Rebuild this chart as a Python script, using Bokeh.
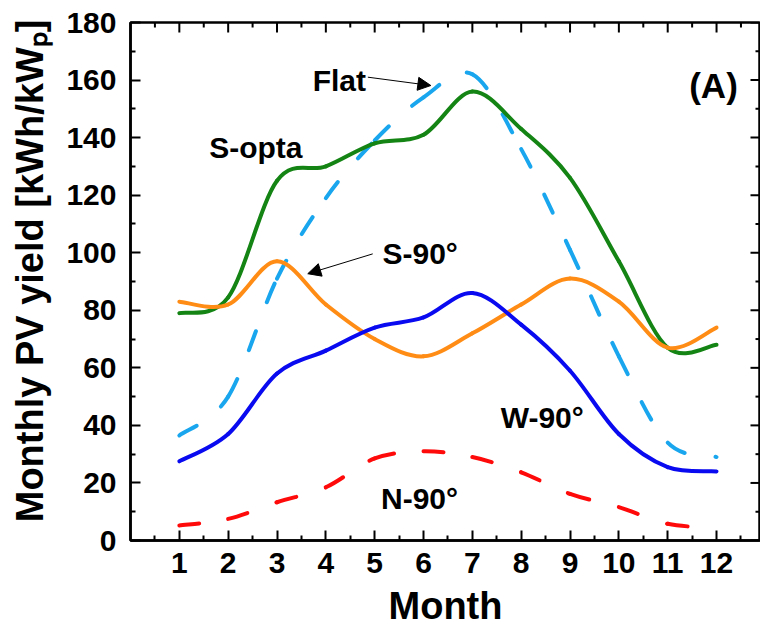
import numpy as np
from bokeh.plotting import figure
from bokeh.models import FixedTicker, Label, Arrow, NormalHead, Range1d
from bokeh.embed import file_html
from bokeh.resources import INLINE

# ---------------- data ----------------
months = [1, 2, 3, 4, 5, 6, 7, 8, 9, 10, 11, 12]
flat = [36.5, 50, 91, 119, 139, 154, 162, 136, 101, 64, 34, 29]
s_opta = [79, 84.5, 125, 130, 138, 141, 156, 143, 126, 97, 67, 68]
s_90 = [83, 82, 97, 82, 70, 64, 72, 82, 91, 83, 67, 74]
w_90 = [27.5, 37, 58, 66, 74, 77.5, 86, 75, 59, 37, 25.5, 24]
n_90 = [5.2, 7.5, 13.3, 18.5, 28.5, 31, 29, 23.7, 16.2, 11.6, 5.8, 4.4]

x_ticks = [1, 2, 3, 4, 5, 6, 7, 8, 9, 10, 11, 12]
x_minor_ticks = [0.5, 1.5, 2.5, 3.5, 4.5, 5.5, 6.5, 7.5, 8.5, 9.5, 10.5, 11.5, 12.5]
y_ticks = [0, 20, 40, 60, 80, 100, 120, 140, 160, 180]
y_minor_ticks = [10, 30, 50, 70, 90, 110, 130, 150, 170]

X_START, X_END = 0, 12.9
Y_START, Y_END = 0, 180

FONT = "Liberation Sans"


def bezier_parts(xs, ys):
    """Catmull-Rom control points for a smooth curve through the data points."""
    x = np.asarray(xs, float)
    y = np.asarray(ys, float)
    n = len(x)
    xp = np.concatenate([[x[0]], x, [x[-1]]])
    yp = np.concatenate([[y[0]], y, [y[-1]]])
    cx0 = x[:-1] + (xp[2:n + 1] - xp[0:n - 1]) / 6.0
    cy0 = y[:-1] + (yp[2:n + 1] - yp[0:n - 1]) / 6.0
    cx1 = x[1:] - (xp[3:n + 2] - xp[1:n]) / 6.0
    cy1 = y[1:] - (yp[3:n + 2] - yp[1:n]) / 6.0
    return dict(x0=x[:-1], y0=y[:-1], x1=x[1:], y1=y[1:],
                cx0=cx0, cy0=cy0, cx1=cx1, cy1=cy1)


p = figure(width=760, height=629,
           x_range=Range1d(X_START, X_END), y_range=Range1d(Y_START, Y_END),
           output_backend="svg", toolbar_location=None,
           min_border_left=130, min_border_right=0,
           min_border_top=22, min_border_bottom=89)
p.xgrid.visible = False
p.ygrid.visible = False
p.outline_line_color = "black"
p.outline_line_width = 2.5
p.background_fill_color = "white"
p.border_fill_color = "white"


def style_axis(ax):
    ax.axis_line_width = 2.5
    ax.axis_line_color = "black"
    ax.major_tick_in = 10
    ax.major_tick_out = 0
    ax.minor_tick_in = 5
    ax.minor_tick_out = 0
    ax.major_tick_line_width = 2
    ax.minor_tick_line_width = 2
    ax.major_tick_line_color = "black"
    ax.minor_tick_line_color = "black"
    ax.major_label_text_font = FONT
    ax.major_label_text_font_style = "bold"
    ax.major_label_text_font_size = "30px"
    ax.major_label_text_color = "black"
    ax.axis_label_text_font = FONT
    ax.axis_label_text_font_style = "bold"
    ax.axis_label_text_color = "black"


p.xaxis[0].ticker = FixedTicker(ticks=x_ticks, minor_ticks=x_minor_ticks)
p.yaxis[0].ticker = FixedTicker(ticks=y_ticks, minor_ticks=y_minor_ticks)
style_axis(p.xaxis[0])
style_axis(p.yaxis[0])
p.xaxis[0].axis_label = "Month"
p.xaxis[0].axis_label_text_font_size = "38px"
p.xaxis[0].major_label_standoff = 12
p.xaxis[0].axis_label_standoff = 9
p.yaxis[0].axis_label = "\u00a0\u00a0Monthly PV yield [kWh/kWₚ]"
p.yaxis[0].axis_label_text_font_size = "38px"
p.yaxis[0].major_label_standoff = 14
p.yaxis[0].axis_label_standoff = 12

# mirrored inward ticks on top and right edges of the frame
p.scatter(x_ticks, [Y_END] * len(x_ticks), marker="dash", size=20, angle=np.pi / 2,
          line_color="black", line_width=2)
p.scatter(x_minor_ticks, [Y_END] * len(x_minor_ticks), marker="dash", size=10,
          angle=np.pi / 2, line_color="black", line_width=2)
p.scatter([X_END] * len(y_ticks), y_ticks, marker="dash", size=20,
          line_color="black", line_width=2)
p.scatter([X_END] * len(y_minor_ticks), y_minor_ticks, marker="dash", size=10,
          line_color="black", line_width=2)

# ---------------- curves ----------------
curves = [
    (flat, "#19A6EE", "20 31"),
    (s_opta, "#148414", None),
    (s_90, "#FF8C14", None),
    (w_90, "#0A0AF0", None),
    (n_90, "#FF0A0A", "20 31"),
]
for vals, color, dash in curves:
    kw = dict(line_color=color, line_width=4, line_cap="round")
    if dash:
        kw["line_dash"] = dash
    p.bezier(**bezier_parts(months, vals), **kw)

# ---------------- labels ----------------
label_specs = [
    ("Flat", 3.73, 159.8, "30px"),
    ("S-opta", 1.61, 136.7, "30px"),
    ("S-90°", 5.16, 99.6, "30px"),
    ("W-90°", 7.58, 42.8, "30px"),
    ("N-90°", 5.13, 14.5, "30px"),
    ("(A)", 11.44, 158.1, "35px"),
]
for txt, lx, ly, fs in label_specs:
    p.add_layout(Label(x=lx, y=ly, text=txt, text_font=FONT, text_font_style="bold",
                       text_font_size=fs, text_color="black",
                       text_align="left", text_baseline="alphabetic"))

arrow_specs = [
    (4.86, 161.0, 6.15, 158.1),
    (4.96, 99.6, 3.63, 92.7),
]
for ax0, ay0, ax1, ay1 in arrow_specs:
    p.add_layout(Arrow(x_start=ax0, y_start=ay0, x_end=ax1, y_end=ay1,
                       line_color="black", line_width=1,
                       end=NormalHead(size=13, fill_color="black", line_color="black")))

open("out.html", "w").write(file_html(p, INLINE))
